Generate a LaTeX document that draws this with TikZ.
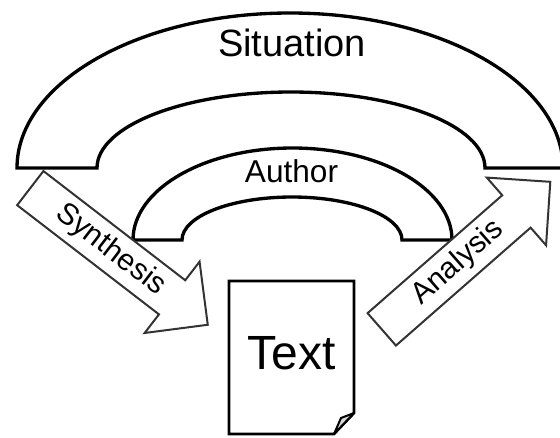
\documentclass[tikz,border=0pt]{standalone}
\usepackage{fontspec}
\setmainfont{Liberation Sans}
\usetikzlibrary{shapes.arrows}

\begin{document}
\begin{tikzpicture}[x=0.75pt, y=0.75pt,
            band/.style={draw, line width=2.5pt, fill=white, line join=miter},
            ringtext/.style={anchor=base, inner sep=0pt},
            flow/.style={draw=black!80, line width=1.5pt, fill=white, single arrow, single arrow tip angle=90,
                single arrow head extend=17.6pt, minimum height=168pt, inner xsep=0pt, inner ysep=4.8pt,
                text height=16.5pt, text depth=4.7pt, font=\fontsize{22.5}{24}\selectfont}]

            \useasboundingbox (0,0) rectangle (560,437);

            % outer ring
            \draw[band] (17,269) arc[start angle=180, end angle=0, x radius=273, y radius=155]
                -- (485,269) arc[start angle=0, end angle=180, x radius=194, y radius=76] -- cycle;
            \node[ringtext, font=\fontsize{28.5}{30}\selectfont] (situation) at (292,381) {Situation};

            % inner ring
            \draw[band] (133,197) arc[start angle=180, end angle=0, x radius=159.5, y radius=92]
                -- (402,197) arc[start angle=0, end angle=180, x radius=110, y radius=43] -- cycle;
            \node[ringtext, font=\fontsize{23.7}{26}\selectfont] (author) at (291.5,255) {Author};

            % page
            \draw[line width=2pt, fill=white, line join=miter] (229,156) -- (354,156) -- (354,24)
                -- (334,3) -- (229,3) -- cycle;
            \draw[line width=1.5pt, fill=gray!30, line join=round] (354,24) -- (341,19) -- (334,3) -- cycle;
            \node[ringtext, font=\fontsize{36}{40}\selectfont] (doc) at (291.5,68) {Text};

            % arrows
            \node[flow, rotate=-37.6, anchor=tail] (synthesis) at (29.5,249.5) {Synthesis};
            \node[flow, rotate=41.2, anchor=tail] (analysis) at (381,107) {Analysis};
        \end{tikzpicture}
\end{document}
